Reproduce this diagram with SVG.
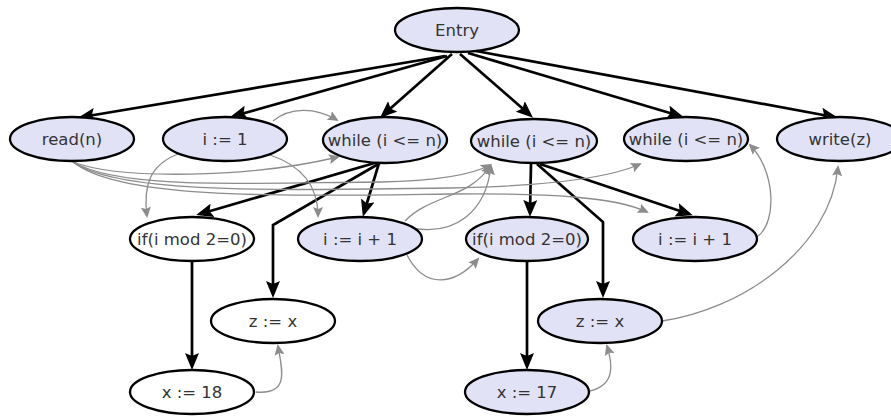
<svg xmlns="http://www.w3.org/2000/svg" width="891" height="416" viewBox="0 0 891 416">
<style>
.n ellipse{stroke:#000;stroke-width:2.3}
.f{fill:#e1e2f6}
.w{fill:#fff}
text{font-family:"DejaVu Sans",sans-serif;font-size:16.5px;fill:#333;text-anchor:middle}
.c{fill:none;stroke:#000;stroke-width:2.7;marker-end:url(#ab)}
.d{fill:none;stroke:#8c8c8c;stroke-width:1.3;marker-end:url(#ag)}
</style>
<defs>
<marker id="ab" markerUnits="userSpaceOnUse" markerWidth="18" markerHeight="14" refX="13" refY="7" orient="auto"><path d="M0,0 L17,7 L0,14 L3,7 z" fill="#000"/></marker>
<marker id="ag" markerUnits="userSpaceOnUse" markerWidth="12" markerHeight="10" refX="9" refY="5" orient="auto"><path d="M0,0 L11,5 L0,10 L2,5 z" fill="#8c8c8c"/></marker>
</defs>
<rect width="891" height="416" fill="#fff"/>
<g id="edges">
<path class="c" d="M445,56 L82,117"/>
<path class="c" d="M447,56 L234,116"/>
<path class="c" d="M452,54 L383,115"/>
<path class="c" d="M460,54 L530,115"/>
<path class="c" d="M468,53 L680,116"/>
<path class="c" d="M476,51 L834,117"/>
<path class="c" d="M378,162 L200,214"/>
<path class="c" d="M380,163 L273,225 L273,294"/>
<path class="c" d="M379,163 L364,213"/>
<path class="c" d="M531,164 L530,213"/>
<path class="c" d="M537,164 L603,222 L603,294"/>
<path class="c" d="M540,164 L689,214"/>
<path class="c" d="M192,262 L192,366"/>
<path class="c" d="M527,262 L527,366"/>
<path class="d" d="M273,121 C290,107 315,107 337,120"/>
<path class="d" d="M73,162 C120,180 250,178 338,157"/>
<path class="d" d="M73,162 C120,190 250,183 380,182 C430,181 470,176 490,165"/>
<path class="d" d="M73,162 C120,195 280,190 450,188 C550,186 610,178 640,164"/>
<path class="d" d="M73,162 C120,200 280,196 450,194 C550,193 615,197 647,212"/>
<path class="d" d="M178,154 C150,165 143,185 147,216"/>
<path class="d" d="M270,155 C300,165 318,185 318,216"/>
<path class="d" d="M405,221 C430,195 470,198 490,166"/>
<path class="d" d="M412,228 C455,236 486,212 491,166"/>
<path class="d" d="M407,255 C425,290 455,285 478,259"/>
<path class="d" d="M757,237 C778,222 775,170 750,145"/>
<path class="d" d="M662,321 C740,310 830,250 838,167"/>
<path class="d" d="M256,392 C290,395 282,370 278,346"/>
<path class="d" d="M590,391 C615,385 613,365 607,346"/>
</g>
<g id="entry" class="n"><ellipse class="f" cx="457" cy="30" rx="62" ry="22"/><text x="457" y="36">Entry</text></g>
<g id="read" class="n"><ellipse class="f" cx="72" cy="139" rx="62" ry="22"/><text x="72" y="145">read(n)</text></g>
<g id="i1" class="n"><ellipse class="f" cx="225" cy="139" rx="62" ry="22"/><text x="225" y="145">i := 1</text></g>
<g id="while1" class="n"><ellipse class="f" cx="385" cy="140" rx="62" ry="23"/><text x="385" y="146">while (i &lt;= n)</text></g>
<g id="while2" class="n"><ellipse class="f" cx="534" cy="141" rx="63" ry="22"/><text x="534" y="147">while (i &lt;= n)</text></g>
<g id="while3" class="n"><ellipse class="f" cx="686" cy="139" rx="62" ry="22"/><text x="686" y="145">while (i &lt;= n)</text></g>
<g id="write" class="n"><ellipse class="f" cx="840" cy="139" rx="63" ry="22"/><text x="840" y="145">write(z)</text></g>
<g id="if1" class="n"><ellipse class="w" cx="192" cy="239" rx="62" ry="22"/><text x="192" y="245">if(i mod 2=0)</text></g>
<g id="inc1" class="n"><ellipse class="f" cx="360" cy="239" rx="62" ry="22"/><text x="360" y="245">i := i + 1</text></g>
<g id="if2" class="n"><ellipse class="f" cx="527" cy="239" rx="61" ry="22"/><text x="527" y="245">if(i mod 2=0)</text></g>
<g id="inc2" class="n"><ellipse class="f" cx="695" cy="239" rx="62" ry="22"/><text x="695" y="245">i := i + 1</text></g>
<g id="z1" class="n"><ellipse class="w" cx="273" cy="321" rx="62" ry="22"/><text x="273" y="327">z := x</text></g>
<g id="z2" class="n"><ellipse class="f" cx="600" cy="321" rx="62" ry="22"/><text x="600" y="327">z := x</text></g>
<g id="x18" class="n"><ellipse class="w" cx="192" cy="392" rx="62" ry="22"/><text x="192" y="398">x := 18</text></g>
<g id="x17" class="n"><ellipse class="f" cx="527" cy="392" rx="62" ry="22"/><text x="527" y="398">x := 17</text></g>
</svg>
